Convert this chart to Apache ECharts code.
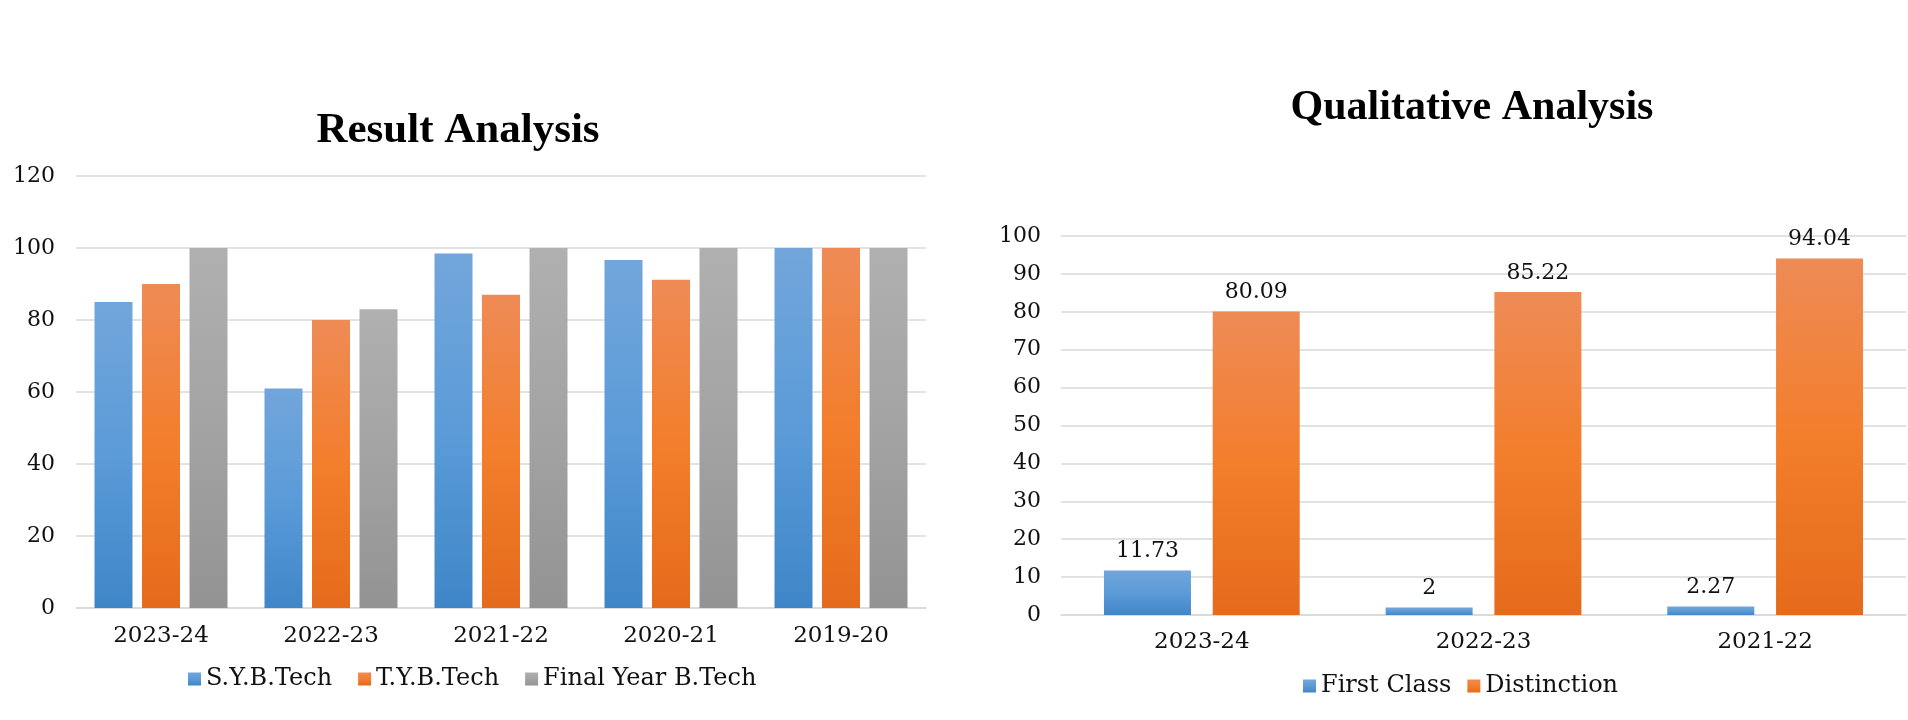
<!DOCTYPE html>
<html>
<head>
<meta charset="utf-8">
<style>html,body{margin:0;padding:0;background:#fff;}#c{width:1908px;height:720px;}</style>
<script src="https://cdn.jsdelivr.net/npm/echarts@6/dist/echarts.min.js"></script>
</head>
<body>
<div id="c"></div>
<script>
// ---- data ----
const resultYears = ['2023-24', '2022-23', '2021-22', '2020-21', '2019-20'];
const syBTech = [85, 61, 98.5, 96.7, 100];
const tyBTech = [90, 80, 87, 91.2, 100];
const finalYearBTech = [100, 83, 100, 100, 100];

const qualYears = ['2023-24', '2022-23', '2021-22'];
const firstClass = [11.73, 2, 2.27];
const distinction = [80.09, 85.22, 94.04];

const leftTicks = { min: 0, max: 120, interval: 20 };
const rightTicks = { min: 0, max: 100, interval: 10 };

// ---- styles ----
const FONT = 'DejaVu Serif';
const TITLE_FONT = 'Liberation Serif';
function grad(top, mid, bottom) {
  return new echarts.graphic.LinearGradient(0, 0, 0, 1, [
    { offset: 0, color: top }, { offset: 0.5, color: mid }, { offset: 1, color: bottom }
  ]);
}
const blue = () => grad('#72a6db', '#5b9bd8', '#3f86c8');
const orange = () => grad('#ee8b56', '#f37e2c', '#e46b1b');
const grey = () => grad('#b0b0b0', '#a3a3a3', '#939393');

const axisLabel = { color: '#111', fontFamily: FONT, fontSize: 22 };
const splitLine = { show: true, lineStyle: { color: '#d9d9d9', width: 1.5 } };

const chart = echarts.init(document.getElementById('c'), null, { renderer: 'canvas' });
chart.setOption({
  backgroundColor: '#fff',
  animation: false,
  title: [
    { text: 'Result Analysis', left: 453, top: 126, textAlign: 'center', textVerticalAlign: 'middle',
      textStyle: { fontFamily: TITLE_FONT, fontWeight: 'bold', fontSize: 43, color: '#000' } },
    { text: 'Qualitative Analysis', left: 1467, top: 103, textAlign: 'center', textVerticalAlign: 'middle',
      textStyle: { fontFamily: TITLE_FONT, fontWeight: 'bold', fontSize: 42, color: '#000' } }
  ],
  legend: [
    { left: 183, top: 662, itemWidth: 13, itemHeight: 13, itemGap: 26, icon: 'rect',
      data: ['S.Y.B.Tech', 'T.Y.B.Tech', 'Final Year B.Tech'],
      textStyle: { fontFamily: FONT, fontSize: 24, color: '#111' } },
    { left: 1298, top: 669, itemWidth: 13, itemHeight: 13, itemGap: 16, icon: 'rect',
      data: ['First Class', 'Distinction'],
      textStyle: { fontFamily: FONT, fontSize: 24, color: '#111' } }
  ],
  grid: [
    { left: 76, right: 982, top: 176, bottom: 112 },
    { left: 1061, right: 2, top: 236, bottom: 105 }
  ],
  xAxis: [
    { type: 'category', gridIndex: 0, data: resultYears,
      axisLine: { lineStyle: { color: '#d9d9d9', width: 1.5 } }, axisTick: { show: false },
      axisLabel: Object.assign({ margin: 17 }, axisLabel, { fontSize: 23 }) },
    { type: 'category', gridIndex: 1, data: qualYears,
      axisLine: { lineStyle: { color: '#d9d9d9', width: 1.5 } }, axisTick: { show: false },
      axisLabel: Object.assign({ margin: 16 }, axisLabel, { fontSize: 23 }) }
  ],
  yAxis: [
    { type: 'value', gridIndex: 0, min: leftTicks.min, max: leftTicks.max, interval: leftTicks.interval,
      axisLine: { show: false }, axisTick: { show: false }, splitLine,
      axisLabel: Object.assign({ margin: 21 }, axisLabel) },
    { type: 'value', gridIndex: 1, min: rightTicks.min, max: rightTicks.max, interval: rightTicks.interval,
      axisLine: { show: false }, axisTick: { show: false }, splitLine,
      axisLabel: Object.assign({ margin: 20 }, axisLabel) }
  ],
  series: [
    { name: 'S.Y.B.Tech', type: 'bar', xAxisIndex: 0, yAxisIndex: 0, data: syBTech,
      barWidth: 38, barGap: '25%', itemStyle: { color: blue() } },
    { name: 'T.Y.B.Tech', type: 'bar', xAxisIndex: 0, yAxisIndex: 0, data: tyBTech,
      barWidth: 38, barGap: '25%', itemStyle: { color: orange() } },
    { name: 'Final Year B.Tech', type: 'bar', xAxisIndex: 0, yAxisIndex: 0, data: finalYearBTech,
      barWidth: 38, barGap: '25%', itemStyle: { color: grey() } },
    { name: 'First Class', type: 'bar', xAxisIndex: 1, yAxisIndex: 1, data: firstClass,
      barWidth: 87, barGap: '25%', itemStyle: { color: blue() },
      label: { show: true, position: 'top', distance: 8, fontFamily: FONT, fontSize: 22, color: '#111' } },
    { name: 'Distinction', type: 'bar', xAxisIndex: 1, yAxisIndex: 1, data: distinction,
      barWidth: 87, barGap: '25%', itemStyle: { color: orange() },
      label: { show: true, position: 'top', distance: 8, fontFamily: FONT, fontSize: 22, color: '#111' } }
  ]
});
</script>
</body>
</html>
